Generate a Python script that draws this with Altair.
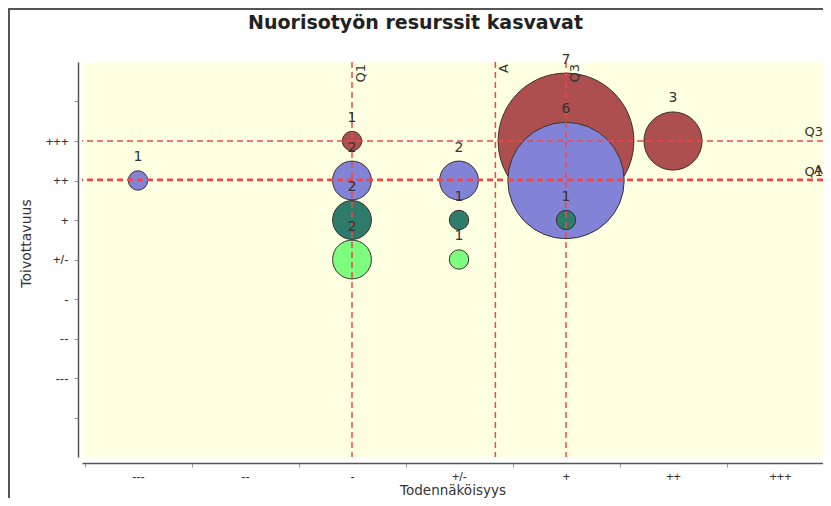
import json
import altair as alt
import pandas as pd

# ---- data ----
chart_title = "Nuorisotyön resurssit kasvavat"
x_title = "Todennäköisyys"
y_title = "Toivottavuus"
x_labels = ["---", "--", "-", "+/-", "+", "++", "+++"]
y_labels = ["---", "--", "-", "+/-", "+", "++", "+++"]

bub_x = [1, 3, 3, 3, 3, 4, 4, 4, 5, 5, 5, 6]
bub_y = [6, 7, 6, 5, 4, 6, 5, 4, 7, 6, 5, 7]
bub_n = [1, 1, 2, 2, 2, 2, 1, 1, 7, 6, 1, 3]

series_levels = [7, 6, 5, 4]
series_colors = ["#AD4F4F", "#8282D6", "#2F7B6B", "#7EFC7E"]

vline_names = ["Q1", "A", "Q3"]
vline_vals = [3, 4.34, 5]
hline_names = ["Q3", "Q1", "A"]
hline_vals = [7, 6, 6.03]

# ---- layout ----
W, H = 741, 395
PL, PT, PR, PB = 74, 54, 0, 41
PX_PER_X = 107.0
PX_PER_Y = H / 10.0
R_PER_N = 9.7
x0 = 0.4766
xscale = alt.Scale(domain=[x0, x0 + W / PX_PER_X], nice=False, zero=False)
yscale = alt.Scale(domain=[-1, 9], nice=False, zero=False)

df = pd.DataFrame({"x": bub_x, "y": bub_y, "n": bub_n})
df = df.sort_values("y", ascending=False, kind="stable").reset_index(drop=True)
vdf = pd.DataFrame({"name": vline_names, "v": vline_vals})
hdf = pd.DataFrame({"name": hline_names, "v": hline_vals})

xlab_expr = "datum.value >= 1 && datum.value <= 7 ? " + json.dumps(x_labels) + "[datum.value - 1] : ''"
ylab_expr = "datum.value >= 1 && datum.value <= 7 ? " + json.dumps(y_labels) + "[datum.value - 1] : ''"

xaxis = alt.Axis(
    values=list(range(1, 8)), labelExpr=xlab_expr, tickOffset=-PX_PER_X / 2,
    labelOffset=PX_PER_X / 2, offset=6, grid=False, domainColor="#555",
    domainWidth=1.5, tickColor="#999", tickSize=4, labelPadding=3,
    labelFont="Liberation Sans", labelFontSize=12.5, labelColor="#333",
    title=x_title, titleFont="DejaVu Sans", titleFontSize=13.5,
    titleFontWeight="normal", titleColor="#333", titlePadding=1,
)
yaxis = alt.Axis(
    values=list(range(0, 9)), labelExpr=ylab_expr, offset=4, grid=False,
    domainColor="#555", domainWidth=1.5, tickColor="#999", tickSize=4,
    labelPadding=6, labelFont="Liberation Sans", labelFontSize=13,
    labelColor="#333", title=y_title, titleFont="DejaVu Sans", titleFontSize=14,
    titleFontWeight="normal", titleColor="#333", titlePadding=12, titleY=181,
)

size_range_max = 4 * (R_PER_N * 7) ** 2

circles = alt.Chart(df).mark_circle(opacity=1, stroke="#3a3030", strokeWidth=1).encode(
    x=alt.X("x:Q", scale=xscale, axis=xaxis),
    y=alt.Y("y:Q", scale=yscale, axis=yaxis),
    size=alt.Size("n:Q", scale=alt.Scale(type="pow", exponent=2, domain=[0, 7], range=[0, size_range_max]), legend=None),
    color=alt.Color("y:N", scale=alt.Scale(domain=series_levels, range=series_colors), legend=None),
)

bub_text = alt.Chart(df).transform_calculate(
    ly=f"datum.y + ({R_PER_N} * datum.n + 13.5) / {PX_PER_Y}"
).mark_text(font="DejaVu Sans", fontSize=14, color="#333", baseline="middle").encode(
    x=alt.X("x:Q", scale=xscale, axis=xaxis),
    y=alt.Y("ly:Q", scale=yscale, axis=yaxis),
    text="n:Q",
)

rule_style = dict(color="#F04848", strokeWidth=1.5, strokeDash=[6, 4])
vrules = alt.Chart(vdf).mark_rule(**rule_style).encode(x=alt.X("v:Q", scale=xscale, axis=xaxis))
hrules = alt.Chart(hdf).mark_rule(**rule_style).encode(y=alt.Y("v:Q", scale=yscale, axis=yaxis))

vlabels = alt.Chart(vdf).mark_text(
    font="DejaVu Sans", fontSize=13, color="#333", angle=270, align="right",
    baseline="top", xOffset=3,
).encode(x=alt.X("v:Q", scale=xscale, axis=xaxis), y=alt.value(2), text="name:N")

hlabels = alt.Chart(hdf).mark_text(
    font="DejaVu Sans", fontSize=13, color="#333", align="right", baseline="bottom", dy=-2,
).encode(x=alt.value(W + PR), y=alt.Y("v:Q", scale=yscale, axis=yaxis), text="name:N")

frame_data = alt.Data(values=[{"k": 1}])
frame_left = alt.Chart(frame_data).mark_rule(color="#555", strokeWidth=2).encode(
    x=alt.value(-PL + 1), y=alt.value(-PT), y2=alt.value(H + PB))
frame_top = alt.Chart(frame_data).mark_rule(color="#555", strokeWidth=2).encode(
    x=alt.value(-PL), x2=alt.value(W + PR), y=alt.value(-PT + 1))

chart = alt.layer(
    circles, vrules, hrules, bub_text, vlabels, hlabels, frame_left, frame_top
).properties(
    width=W, height=H,
    title=alt.TitleParams(text=chart_title, font="DejaVu Sans", fontSize=19,
                          fontWeight="bold", color="#222", anchor="middle",
                          frame="bounds", offset=0, dy=26),
    autosize=alt.AutoSizeParams(type="none"),
    padding={"left": PL, "top": PT, "right": PR, "bottom": PB},
).configure(
    background="white",
    view=alt.ViewConfig(fill="#FFFFE2", stroke="transparent"),
)

chart.save("out.html", embed_options={"renderer": "svg", "actions": False})
